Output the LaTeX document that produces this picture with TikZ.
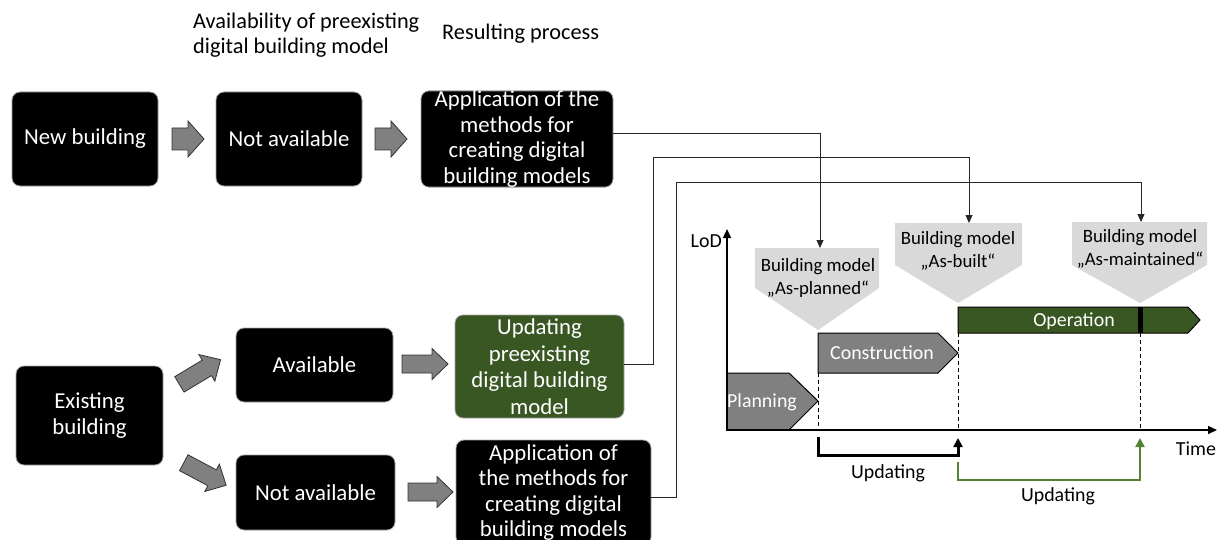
\documentclass[tikz,border=0pt]{standalone}
\usepackage{fontspec}
\setmainfont{Carlito}
\usetikzlibrary{arrows.meta}

\definecolor{boxgreen}{RGB}{56,87,35}
\definecolor{linegreen}{RGB}{84,130,53}
\definecolor{milestone}{RGB}{217,217,217}
\definecolor{phasegray}{RGB}{128,128,128}
\definecolor{frame}{RGB}{165,165,165}

\tikzset{
  procbox/.style={rectangle, rounded corners=8pt, fill=black, draw=frame, line width=0.8pt,
    text=white, align=center, inner sep=0pt, font=\fontsize{22.8}{25.5}\selectfont},
  greenbox/.style={procbox, fill=boxgreen, font=\fontsize{22.8}{26.5}\selectfont},
  blockarr/.style={fill=phasegray, draw=black!80, line width=0.8pt, line join=miter},
  conn/.style={draw=black!85, line width=0.9pt, -{Triangle[length=8pt,width=7pt]}},
  milestonebox/.style={fill=milestone, draw=none},
  mstext/.style={align=center, font=\fontsize{18.8}{22.5}\selectfont, inner sep=0pt},
  phase/.style={fill=phasegray, draw=black, line width=1pt},
  phasetext/.style={text=white, font=\fontsize{19.9}{23}\selectfont, inner sep=0pt},
  axislabel/.style={font=\fontsize{19.9}{23}\selectfont, inner sep=0pt},
  axis/.style={line width=1.4pt, -{Triangle[length=9pt,width=8pt]}},
  marker/.style={dash pattern=on 4pt off 3pt, line width=1pt},
  header/.style={align=left, font=\fontsize{22.3}{25}\selectfont, inner sep=0pt},
  updblack/.style={line width=3pt, -{Triangle[length=9pt,width=9pt]}},
  updgreen/.style={draw=linegreen, line width=2.5pt, -{Triangle[length=9pt,width=9pt]}},
}

% block arrow: centre, angle, length, head width, shaft width, head length
\newcommand\drawblockarrow[6]{%
  \draw[blockarr, shift={#1}, rotate=#2]
    (-#3/2,-#5/2) -- (#3/2-#6,-#5/2) -- (#3/2-#6,-#4/2) -- (#3/2,0)
    -- (#3/2-#6,#4/2) -- (#3/2-#6,#5/2) -- (-#3/2,#5/2) -- cycle;}

\begin{document}
\begin{tikzpicture}[x=1pt,y=-1pt]
\useasboundingbox (0,0) rectangle (1222,540);

% column headers
\node[header, anchor=west] (hdrA) at (193,35) {Availability of preexisting\\digital building model};
\node[header, anchor=west] (hdrB) at (442,34) {Resulting process};

% new building row
\node[procbox, minimum width=146pt, minimum height=94pt] (nb) at (85,139) {New building};
\node[procbox, minimum width=146pt, minimum height=94pt] (na1) at (289,139) {Not available};
\node[procbox, minimum width=192pt, minimum height=94pt] (app1) at (517,139)
  {Application of the\\methods for\\creating digital\\building models};
\drawblockarrow{(188,139)}{0}{32}{36}{22}{16}
\drawblockarrow{(391,139)}{0}{32}{36}{22}{16}

% existing building rows
\node[procbox, minimum width=147pt, minimum height=99pt] (eb) at (89.5,415.5) {Existing\\building};
\node[procbox, minimum width=157pt, minimum height=74pt] (av) at (314.5,365) {Available};
\node[procbox, minimum width=159pt, minimum height=75pt] (na2) at (315.5,492.5) {Not available};
\node[greenbox, minimum width=169pt, minimum height=103pt] (upd) at (539.5,366.5)
  {Updating\\preexisting\\digital building\\model};
\node[procbox, minimum width=195pt, minimum height=105pt] (app2) at (553.5,492.5)
  {Application of\\the methods for\\creating digital\\building models};
\drawblockarrow{(200,372)}{31}{48}{31}{18}{16}
\drawblockarrow{(205,474)}{-28}{48}{31}{18}{16}
\drawblockarrow{(425,364)}{0}{46}{31}{18}{16}
\drawblockarrow{(430.5,492)}{0}{45}{31}{18}{16}

% milestones (building models)
\fill[milestonebox] (755,248) -- (879,248) -- (879,288) -- (818,330) -- (755,288) -- cycle;
\fill[milestonebox] (895,223) -- (1022,223) -- (1022,265) -- (958,303) -- (895,265) -- cycle;
\fill[milestonebox] (1072,222) -- (1207,222) -- (1207,265) -- (1140,303) -- (1072,265) -- cycle;
\node[mstext] (msA) at (818,278) {Building model\\„As-planned“};
\node[mstext] (msB) at (958,251) {Building model\\„As-built“};
\node[mstext] (msC) at (1140,249) {Building model\\„As-maintained“};
\coordinate (msAtop) at (820,248);
\coordinate (msBtop) at (969,223);
\coordinate (msCtop) at (1141,222);

% connectors from the processes to the milestones
\coordinate (c1) at (820,133);
\coordinate (c2) at (653,157);
\coordinate (c3) at (676,182);
\draw[conn] (app1.east |- c1) -| (msAtop);
\draw[conn] ([yshift=2pt]upd.east) -| (c2) -| (msBtop);
\draw[conn] ([yshift=-5pt]app2.east) -| (c3) -| (msCtop);

% phase markers
\draw[marker] (818,373) -- (818,430);
\draw[marker] (958,333) -- (958,430);
\draw[marker] (1140,333) -- (1140,430);

% life-cycle phases
\draw[phase] (727,373) -- (789,373) -- (818,401) -- (789,430) -- (727,430) -- cycle;
\draw[phase] (818,333) -- (938,333) -- (958,353) -- (938,373) -- (818,373) -- cycle;
\draw[phase, fill=boxgreen] (958,307) -- (1188,307) -- (1200,320) -- (1188,333) -- (958,333) -- cycle;
\fill[black] (1137.5,307) rectangle (1142.5,333);
\node[phasetext] (planning) at (762,402) {Planning};
\node[phasetext] (construction) at (882,353) {Construction};
\node[phasetext] (operation) at (1074,321) {Operation};

% axes
\coordinate (origin) at (727,430);
\coordinate (lodend) at (727,229);
\coordinate (timeend) at (1217,430);
\draw[axis] ([yshift=-1pt]origin) -- (lodend);
\draw[axis] ([xshift=-1pt]origin) -- (timeend);
\node[axislabel, anchor=east] (lod) at (722,241) {LoD};
\node[axislabel] (time) at (1196,449) {Time};

% updating intervals
\coordinate (u1a) at (818,437);
\coordinate (u1b) at (958,455);
\coordinate (u1c) at (958,438);
\draw[updblack] (u1a) |- (u1b) -- (u1c);
\node[axislabel] (upd1) at (888,473) {Updating};
\coordinate (u2a) at (958,462);
\coordinate (u2b) at (1140,480);
\coordinate (u2c) at (1140,438);
\draw[updgreen] (u2a) |- (u2b) -- (u2c);
\node[axislabel] (upd2) at (1058,496) {Updating};
\end{tikzpicture}
\end{document}
